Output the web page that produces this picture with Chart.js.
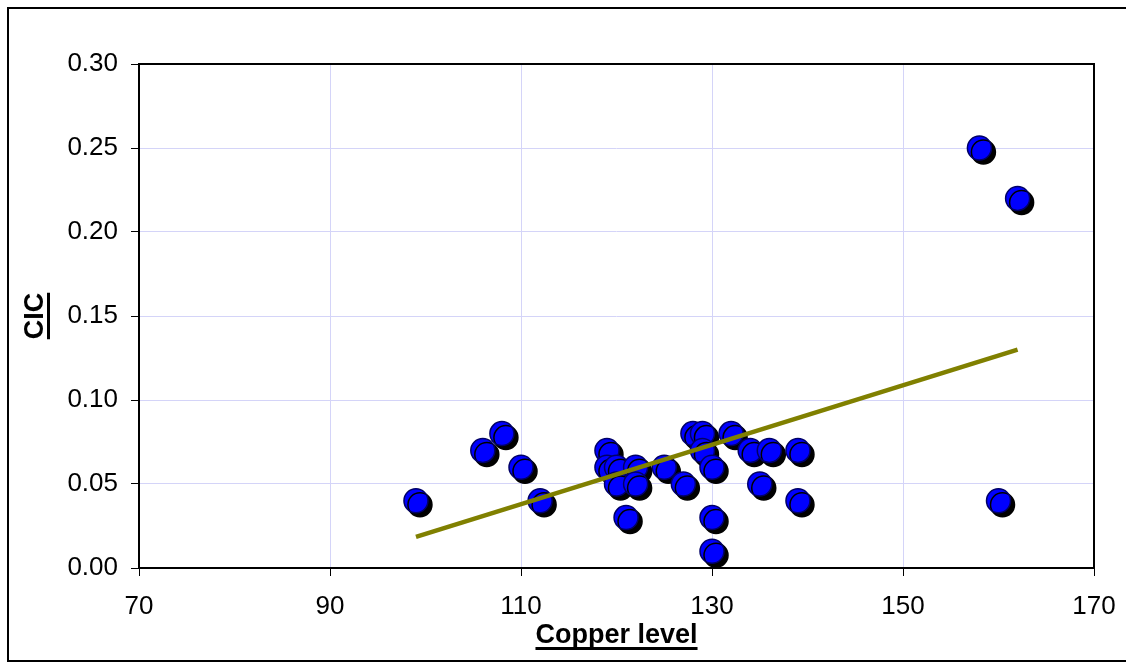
<!DOCTYPE html>
<html>
<head>
<meta charset="utf-8">
<script src="https://cdn.jsdelivr.net/npm/chart.js@4.4.1/dist/chart.umd.min.js"></script>
<style>
  html, body { margin: 0; padding: 0; background: #fff; }
  canvas { display: block; }
</style>
</head>
<body>
<canvas id="cicChart" width="1126" height="664"></canvas>
<script>
// Copper level vs CIC
const copperLevel = [99, 106, 108, 110, 112, 119, 119, 120, 120, 121, 122, 122, 125, 127, 128, 129, 129, 130, 130, 130, 132, 134, 135, 136, 139, 139, 158, 162, 160]
const cicValues   = [0.04, 0.07, 0.08, 0.06, 0.04, 0.07, 0.06, 0.06, 0.05, 0.03, 0.06, 0.05, 0.06, 0.05, 0.08, 0.08, 0.07, 0.06, 0.03, 0.01, 0.08, 0.07, 0.05, 0.07, 0.07, 0.04, 0.25, 0.22, 0.04]

// linear trend line end points
const trendX = [99, 162]
const trendY = [0.0185, 0.130]

const xTicks = [70, 90, 110, 130, 150, 170]
const yTicks = [0, 0.05, 0.10, 0.15, 0.20, 0.25, 0.30]

const FONT = "'Liberation Sans', Arial, sans-serif"

// drop shadow behind the markers (Excel style)
const shadowPlugin = {
  id: 'markerShadow',
  beforeDatasetDraw(chart, args) {
    if (args.meta.type !== 'scatter') return
    const ctx = chart.ctx
    ctx.save()
    ctx.shadowColor = '#000'
    ctx.shadowOffsetX = 4
    ctx.shadowOffsetY = 4
    ctx.shadowBlur = 0
  },
  afterDatasetDraw(chart, args) {
    if (args.meta.type !== 'scatter') return
    chart.ctx.restore()
  }
}

// plot frame, outer frame and underlined axis titles
const framePlugin = {
  id: 'frameAndTitles',
  afterDraw(chart) {
    const { ctx, chartArea: a } = chart
    ctx.save()
    ctx.strokeStyle = '#000'
    ctx.lineWidth = 2
    ctx.strokeRect(a.left, a.top, a.right - a.left, a.bottom - a.top)

    ctx.lineWidth = 2
    ctx.strokeRect(8, 8, 1140, 653)

    ctx.fillStyle = '#000'
    ctx.font = `bold 27px ${FONT}`
    ctx.textAlign = 'center'
    ctx.textBaseline = 'alphabetic'

    // x title
    const xt = 'Copper level'
    const cx = (a.left + a.right) / 2
    ctx.fillText(xt, cx, 643)
    const w = ctx.measureText(xt).width
    ctx.fillRect(cx - w / 2, 647, w, 3)

    // y title
    const yt = 'CIC'
    const cy = (a.top + a.bottom) / 2
    ctx.translate(43, cy)
    ctx.rotate(-Math.PI / 2)
    ctx.fillText(yt, 0, 0)
    const w2 = ctx.measureText(yt).width
    ctx.fillRect(-w2 / 2, 4, w2, 3)
    ctx.restore()
  }
}

const ctx = document.getElementById('cicChart').getContext('2d')
new Chart(ctx, {
  type: 'scatter',
  data: {
    datasets: [
      {
        type: 'line',
        label: 'Trend',
        data: trendX.map((x, i) => ({ x, y: trendY[i] })),
        borderColor: '#808000',
        borderWidth: 4.5,
        pointRadius: 0,
        fill: false,
        order: 0
      },
      {
        type: 'scatter',
        label: 'CIC',
        data: copperLevel.map((x, i) => ({ x, y: cicValues[i] })),
        backgroundColor: '#0000ff',
        borderColor: '#000066',
        borderWidth: 1.5,
        pointRadius: 12,
        pointHoverRadius: 12,
        order: 1
      }
    ]
  },
  options: {
    responsive: false,
    animation: false,
    devicePixelRatio: 1,
    layout: { padding: { left: 0, top: 64, right: 32, bottom: 0 } },
    plugins: { legend: { display: false }, tooltip: { enabled: false } },
    scales: {
      x: {
        type: 'linear',
        min: 70,
        max: 170,
        afterBuildTicks: (s) => { s.ticks = xTicks.map(v => ({ value: v })) },
        afterFit: (s) => { s.height = 96; s.paddingLeft = 0; s.paddingRight = 0 },
        grid: { color: '#d4d4f8', lineWidth: 1, tickLength: 8, tickColor: '#000', drawTicks: true },
        border: { display: false },
        ticks: { color: '#000', font: { family: FONT, size: 26 }, padding: 15, maxRotation: 0 }
      },
      y: {
        type: 'linear',
        min: 0,
        max: 0.30,
        afterBuildTicks: (s) => { s.ticks = yTicks.map(v => ({ value: v })) },
        afterFit: (s) => { s.width = 139 },
        grid: { color: '#d4d4f8', lineWidth: 1, tickLength: 8, tickColor: '#000', drawTicks: true },
        border: { display: false },
        ticks: { color: '#000', font: { family: FONT, size: 26 }, padding: 13, callback: v => v.toFixed(2) }
      }
    }
  },
  plugins: [shadowPlugin, framePlugin]
})
</script>
</body>
</html>
